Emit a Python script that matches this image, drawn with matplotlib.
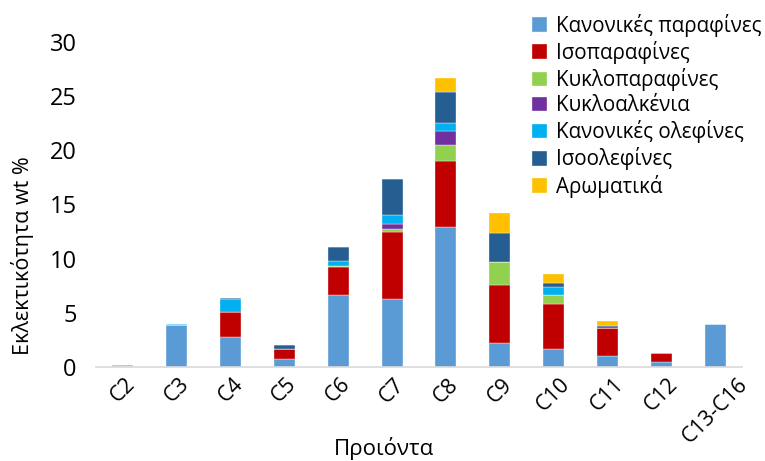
import numpy as np
import matplotlib
matplotlib.use("Agg")
import matplotlib.pyplot as plt

plt.rcParams['font.family'] = ['Open Sans', 'DejaVu Sans']

products = ['C2', 'C3', 'C4', 'C5', 'C6', 'C7', 'C8', 'C9', 'C10', 'C11', 'C12', 'C13-C16']

# selectivity (wt %) per product group, one list per compound class
n_paraffins   = [0.12, 3.85, 2.80, 0.70, 6.60, 6.30, 12.90, 2.20, 1.70, 1.00, 0.50, 3.95]
iso_paraffins = [0.00, 0.00, 2.30, 1.00, 2.60, 6.15, 6.05, 5.40, 4.10, 2.60, 0.80, 0.00]
cycloparaff   = [0.00, 0.00, 0.00, 0.00, 0.15, 0.30, 1.50, 2.05, 0.80, 0.00, 0.00, 0.00]
cycloalkenes  = [0.00, 0.00, 0.00, 0.00, 0.00, 0.43, 1.30, 0.00, 0.00, 0.00, 0.00, 0.00]
n_olefins     = [0.08, 0.15, 1.15, 0.00, 0.45, 0.80, 0.77, 0.00, 0.77, 0.00, 0.00, 0.00]
iso_olefins   = [0.00, 0.00, 0.10, 0.30, 1.30, 3.38, 2.80, 2.75, 0.37, 0.20, 0.00, 0.00]
aromatics     = [0.00, 0.00, 0.00, 0.00, 0.00, 0.00, 1.30, 1.80, 0.80, 0.43, 0.00, 0.00]

series = [
    ('Κανονικές παραφίνες', n_paraffins, '#5B9BD5'),
    ('Ισοπαραφίνες', iso_paraffins, '#C00000'),
    ('Κυκλοπαραφίνες', cycloparaff, '#92D050'),
    ('Κυκλοαλκένια', cycloalkenes, '#7030A0'),
    ('Κανονικές ολεφίνες', n_olefins, '#00B0F0'),
    ('Ισοολεφίνες', iso_olefins, '#255E91'),
    ('Αρωματικά', aromatics, '#FFC000'),
]

fig = plt.figure(figsize=(7.65, 4.61), dpi=100)
ax = fig.add_axes([0.1255, 0.204, 0.8445, 0.7056])

x = np.arange(len(products))
bottom = np.zeros(len(products))
for name, vals, col in series:
    vals = np.array(vals)
    ax.bar(x, vals, 0.39, bottom=bottom, color=col, label=name,
           edgecolor='white', linewidth=0.25)
    bottom += vals

ax.set_xlim(-0.5, len(products) - 0.5)
ax.set_ylim(0, 30)
ax.set_yticks(range(0, 31, 5))
ax.tick_params(axis='y', length=0, labelsize=17, pad=14)
ax.tick_params(axis='x', length=0, labelsize=15.5, pad=5)
ax.set_xticks(x)
ax.set_xticklabels(products, rotation=45, ha='center')

for side in ['top', 'right', 'left']:
    ax.spines[side].set_visible(False)
ax.spines['bottom'].set_color('#D9D9D9')
ax.spines['bottom'].set_linewidth(1.2)

fig.text(0.030, 0.445, 'Εκλεκτικότητα wt %', rotation=90, ha='center', va='center', fontsize=15.5)
fig.text(0.502, 0.028, 'Προιόντα', ha='center', va='center', fontsize=16)

ax.legend(loc='upper right', bbox_to_anchor=(1.0 + 28 / 646, 1.0 + 36 / 325),
          frameon=False, fontsize=14.8, handlelength=0.72, handleheight=0.72,
          handletextpad=0.45, labelspacing=0.2, borderaxespad=0)

fig.savefig('out.png', dpi=100)
